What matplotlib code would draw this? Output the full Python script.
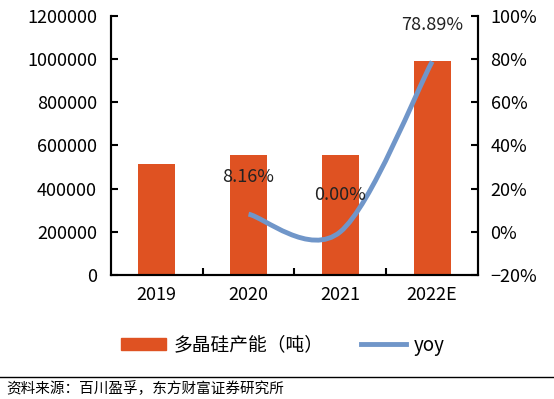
import numpy as np
import matplotlib.pyplot as plt
from matplotlib.path import Path
from matplotlib.patches import PathPatch
from matplotlib.lines import Line2D
from matplotlib.patches import Patch
from matplotlib.ticker import FuncFormatter

plt.rcParams['font.family'] = ['Noto Sans CJK SC', 'DejaVu Sans']

# data
years = ['2019', '2020', '2021', '2022E']
capacity = [512000, 554000, 554000, 991000]
yoy_years = [1, 2, 3]          # index into years
yoy = [8.16, 0.00, 78.89]
yoy_labels = ['8.16%', '0.00%', '78.89%']

BAR = '#DF5222'
LINE = '#7096C9'

fig = plt.figure(figsize=(5.54, 3.99), dpi=100)
ax = fig.add_axes([0.200, 0.311, 0.663, 0.649])
ax2 = ax.twinx()

x = np.arange(len(years))
ax.bar(x, capacity, width=0.4, color=BAR, zorder=2)
ax.set_xlim(-0.5, len(years) - 0.5)
ax.set_ylim(0, 1200000)
ax.set_yticks(np.arange(0, 1200001, 200000))
ax.yaxis.set_major_formatter(FuncFormatter(lambda v, p: f'{v:.0f}'))
ax.set_xticks(x)
ax.set_xticklabels(years)
ax.set_xticks(np.arange(0.5, len(years) - 0.5, 1), minor=True)
ax.tick_params(axis='x', which='major', length=0, labelsize=13, pad=8)
ax.tick_params(axis='x', which='minor', direction='in', length=5, width=1.5)
ax.tick_params(axis='y', direction='in', length=5, width=1.5, labelsize=13, pad=10)

ax2.set_ylim(-20, 100)
ax2.set_yticks(np.arange(-20, 101, 20))
ax2.yaxis.set_major_formatter(FuncFormatter(lambda v, p: f'{v:.0f}%'.replace('-', '−')))
ax2.tick_params(axis='y', direction='in', length=5, width=1.5, labelsize=13, pad=9)

for a in (ax, ax2):
    a.spines['top'].set_visible(False)
    for s in ('left', 'right', 'bottom'):
        a.spines[s].set_linewidth(1.5)

# smoothed yoy line (Catmull-Rom style Bezier through the points)
pts = np.column_stack([yoy_years, yoy]).astype(float)
verts = [pts[0]]
codes = [Path.MOVETO]
n = len(pts)
for i in range(n - 1):
    p0 = pts[max(i - 1, 0)]
    p1 = pts[i]
    p2 = pts[i + 1]
    p3 = pts[min(i + 2, n - 1)]
    c1 = p1 + (p2 - p0) / 6
    c2 = p2 - (p3 - p1) / 6
    verts += [c1, c2, p2]
    codes += [Path.CURVE4] * 3
ax2.add_patch(PathPatch(Path(verts, codes), facecolor='none', edgecolor=LINE,
                        lw=3.5, capstyle='butt', zorder=3))

for xi, yi, lab in zip(yoy_years, yoy, yoy_labels):
    ax2.annotate(lab, (xi, yi), xytext=(0, 20), textcoords='offset points',
                 ha='center', va='bottom', fontsize=13, color='#222222')

handles = [Patch(color=BAR), Line2D([0], [0], color=LINE, lw=3.5)]
fig.legend(handles, ['多晶硅产能（吨）', 'yoy'], loc='center', bbox_to_anchor=(0.51, 0.135),
           ncol=2, frameon=False, fontsize=13.5, handlelength=2.4, handleheight=0.6,
           columnspacing=2.0, handletextpad=0.4)

fig.add_artist(Line2D([0, 1], [0.055, 0.055], transform=fig.transFigure,
                      color='black', lw=1))
fig.text(0.012, 0.027, '资料来源：百川盈孚，东方财富证券研究所', fontsize=10.5,
         va='center', ha='left')

fig.savefig('out.png', dpi=100)
